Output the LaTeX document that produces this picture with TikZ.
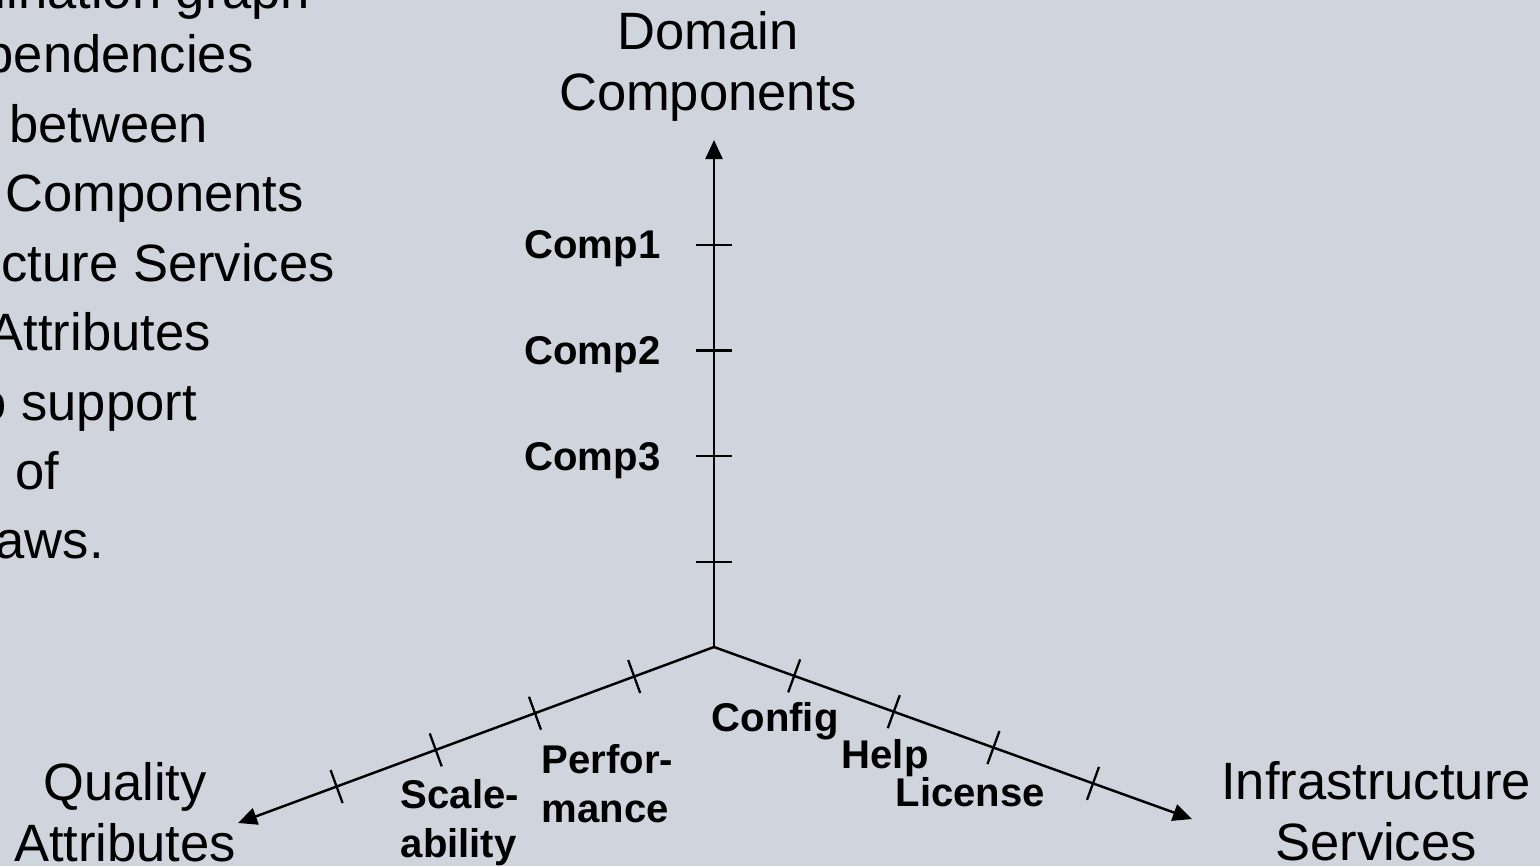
\documentclass[tikz,border=0pt]{standalone}
\usepackage{fontspec}
\setmainfont{Liberation Sans}
\usetikzlibrary{arrows.meta,calc}
\definecolor{slidebg}{RGB}{208,212,220}
\begin{document}
\begin{tikzpicture}[x=0.01cm,y=-0.01cm,
  axis/.style={line width=0.7pt,-{Triangle[length=0.19cm,width=0.17cm]}},
  tickmark/.style={line width=0.65pt},
  axtitle/.style={font=\fontsize{14.94}{17.4}\selectfont,align=center,inner sep=0pt,anchor=north},
  bodyline/.style={font=\fontsize{14.94}{17.4}\selectfont,inner sep=0pt,anchor=base west},
  lbl/.style={font=\fontsize{11.4}{13.8}\selectfont\bfseries,inner sep=0pt},
]
% slide background and frame
\fill[slidebg] (0,0) rectangle (1540,866);
\useasboundingbox (0,0) rectangle (1540,866);
\clip (0,0) rectangle (1540,866);

% body text running in from the left edge
\node[bodyline] (t0) at (-38,8)   {mination graph};
\node[bodyline] (t1) at (-16,72)  {pendencies};
\node[bodyline] (t2) at (8.5,142) {between};
\node[bodyline] (t3) at (5,211)   {Components};
\node[bodyline] (t4) at (1,281)   {cture Services};
\node[bodyline] (t5) at (-12,350) {Attributes};
\node[bodyline] (t6) at (-23,420) {o support};
\node[bodyline] (t7) at (15,489)  {of};
\node[bodyline] (t8) at (-5,558)  {aws.};

% the three axes
\coordinate (O) at (714,647);
\coordinate (U) at (714,140);
\coordinate (L) at (238,823);
\coordinate (R) at (1192,819);
\draw[axis] (O) -- (U);
\draw[axis] (O) -- (L);
\draw[axis] (O) -- (R);

% tick marks, perpendicular to each axis
\foreach \f in {0.1677,0.3761,0.5846,0.7929} {
  \draw[tickmark] ($(O)!\f!(U)$) ++(-18,0) -- ++(36,0);
  \draw[tickmark] ($(O)!\f!(L)$) ++(-6,-16.5) -- ++(12,33);
  \draw[tickmark] ($(O)!\f!(R)$) ++(6,-16.5) -- ++(-12,33);
}

% axis titles
\node[axtitle] (dc) at (708,11)  {Domain\\Components};
\node[axtitle] (qa) at (125,762) {Quality\\Attributes};
\node[axtitle] (is) at (1376,761) {Infrastructure\\Services};

% tick labels
\node[lbl,anchor=base east] (c1) at (661,258.5) {Comp1};
\node[lbl,anchor=base east] (c2) at (661,364.5) {Comp2};
\node[lbl,anchor=base east] (c3) at (661,470)   {Comp3};
\node[lbl,anchor=base west] (cf) at (711,731) {Config};
\node[lbl,anchor=base west] (hp) at (841,768) {Help};
\node[lbl,anchor=base west] (lc) at (895,806) {License};
\node[lbl,anchor=north west,align=left] (pf) at (541,744) {Perfor-\\mance};
\node[lbl,anchor=north west,align=left] (sc) at (400,779) {Scale-\\ability};
\end{tikzpicture}
\end{document}
